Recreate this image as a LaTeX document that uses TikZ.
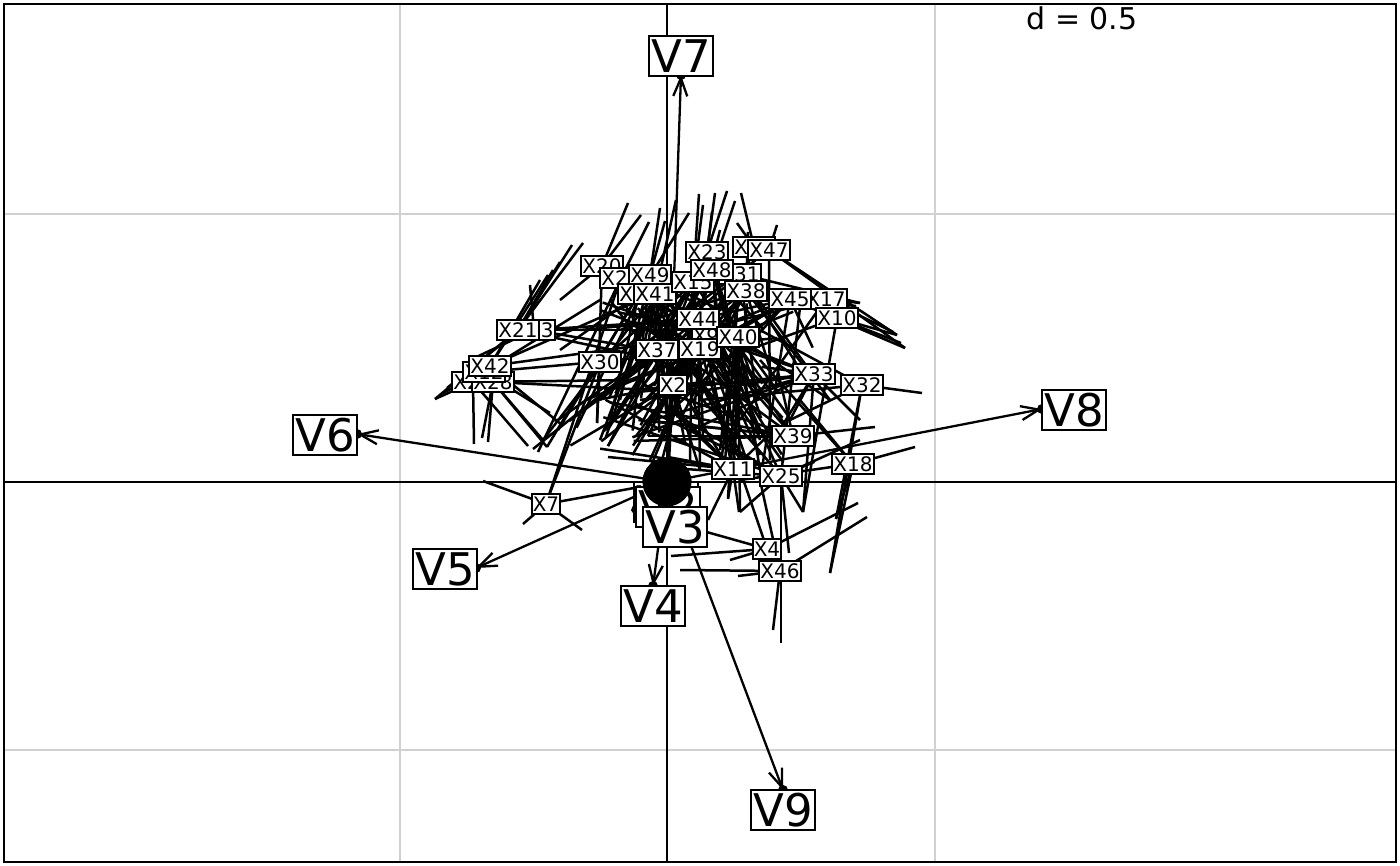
\documentclass[tikz,border=0pt]{standalone}
\usepackage{fontspec}
\setmainfont{DejaVu Sans}
\usetikzlibrary{arrows.meta, backgrounds}

\tikzset{
  xlab/.style={draw, fill=white, line width=2pt, inner xsep=1pt, inner ysep=0pt, minimum height=20pt, font=\fontsize{20}{20}\selectfont},
  vlab/.style={draw, fill=white, line width=2pt, inner xsep=2pt, inner ysep=0pt, minimum height=40pt, font=\fontsize{45}{45}\selectfont},
  starline/.style={line width=2.5pt},
  varrow/.style={line width=2.3pt, -{Straight Barb[length=18pt,width=14pt]}},
  vdot/.style={circle, fill=black, inner sep=0pt, minimum size=10pt},
  gridline/.style={line width=2.4pt, black!18},
}

\begin{document}
\begin{tikzpicture}[x=1pt, y=-1pt]
  \useasboundingbox (0,0) rectangle (1400,866);

  % grid and axes
  \begin{scope}[on background layer]
    \draw[gridline] (400,4) -- (400,862) (935,4) -- (935,862);
    \draw[gridline] (4,214) -- (1396,214) (4,750) -- (1396,750);
    \draw[line width=2.4pt] (667,4) -- (667,862) (4,482) -- (1396,482);
  \end{scope}

  % class labels
  \node[xlab] (X20) at (602,266) {X20};
  \node[xlab] (X27) at (621,278) {X27};
  \node[xlab] (X49) at (650,275) {X49};
  \node[xlab] (X14) at (639,294) {X14};
  \node[xlab] (X41) at (655,294) {X41};
  \node[xlab] (X15) at (693,282) {X15};
  \node[xlab] (X23) at (707,252) {X23};
  \node[xlab] (X36) at (754,247) {X36};
  \node[xlab] (X47) at (769,250) {X47};
  \node[xlab] (X31) at (740,274) {X31};
  \node[xlab] (X48) at (712,270) {X48};
  \node[xlab] (X38) at (746,291) {X38};
  \node[xlab] (X17) at (826,299) {X17};
  \node[xlab] (X45) at (790,299) {X45};
  \node[xlab] (X10) at (837,318) {X10};
  \node[xlab] (X9)  at (706,336) {X9};
  \node[xlab] (X44) at (698,319) {X44};
  \node[xlab] (X19) at (700,349) {X19};
  \node[xlab] (X40) at (738,337) {X40};
  \node[xlab] (X37) at (657,350) {X37};
  \node[xlab] (X30) at (600,362) {X30};
  \node[xlab] (X2)  at (673,385) {X2};
  \node[xlab] (X26) at (473,382) {X26};
  \node[xlab] (X28) at (493,382) {X28};
  \node[xlab] (X12) at (484,372) {X12};
  \node[xlab] (X42) at (490,366) {X42};
  \node[xlab] (X13) at (534,330) {X13};
  \node[xlab] (X21) at (518,330) {X21};
  \node[xlab] (X33) at (814,374) {X33};
  \node[xlab] (X32) at (862,385) {X32};
  \node[xlab] (X39) at (793,436) {X39};
  \node[xlab] (X11) at (733,469) {X11};
  \node[xlab] (X25) at (781,476) {X25};
  \node[xlab] (X18) at (853,464) {X18};
  \node[xlab] (X7)  at (546,504) {X7};
  \node[xlab] (X4)  at (767,549) {X4};
  \node[xlab] (X46) at (780,571) {X46};

  % stars
  \begin{scope}[on background layer]
    \foreach \c/\pts in {
      X20/{628/203,641/215,597/423,640/330,690/300,560/300},
      X27/{649/222,538/452,700/330},
      X49/{660/208,665/221,558/430,547/447,720/310,620/400},
      X14/{689/213,560/350,610/420},
      X41/{676/200,543/440,600/440,700/420,740/460},
      X15/{699/194,703/205,640/380,690/460},
      X23/{715/193,712/212,727/191,650/330,760/400},
      X36/{741/193,737/223,700/400},
      X47/{777/225,897/335,905/348,770/460,650/340},
      X48/{735/201,608/446,760/440},
      X31/{860/303,720/450,640/360},
      X38/{748/232,830/400,680/420,620/330},
      X17/{893/332,860/303,740/420,700/330},
      X45/{905/348,856/306,680/360,760/480},
      X10/{901/343,897/335,803/512,720/360},
      X44/{600/400,700/470,750/470,580/330,720/230},
      X9/{650/460,760/455},
      X19/{695/402,703/438,632/511,740/475,600/310},
      X40/{728/498,740/512,830/400,720/470,760/470,640/300},
      X37/{555/422,533/449,608/446,700/300,730/470},
      X30/{558/430,550/493,597/423,700/350,670/300},
      X2/{648/436,668/480,610/300,700/470,740/300},
      X12/{443/393,550/413,620/360,600/300},
      X26/{435/399,474/444,528/446,640/380},
      X28/{482/438,488/442,547/447,543/440,650/390},
      X42/{562/425,548/275,540/280,640/300,680/340},
      X13/{530/285,690/320,650/350,470/360},
      X21/{572/245,583/243,560/262,553/270,435/399,447/388,700/330,660/360},
      X33/{803/512,790/420,860/420,700/330,640/400},
      X32/{922/393,830/573,836/519,790/420,760/330,700/400},
      X39/{648/436,875/427,740/360,700/330},
      X11/{608/457,708/520,728/499,739/512,700/320,740/340,640/380},
      X25/{781/643,789/553,803/512,740/512,720/340,860/440},
      X18/{915/447,830/573,836/519,740/480,800/400,760/360},
      X7/{483/481,523/524,582/530,620/280,667/482},
      X4/{858/503,671/556,730/560,632/511,740/470},
      X46/{867/517,680/570,738/576,773/630,760/480}}
    {
      \foreach \x/\y in \pts {\draw[starline] (\c.center) -- (\x,\y);}
    }
    \pgfmathsetseed{11}
    \foreach \c in {X41,X44,X40,X19,X37,X2,X38,X45,X11,X25,X39,X33,X48,X15,X49,X31}{
      \foreach \k in {1,...,5}{
        \pgfmathsetmacro\px{600+220*rnd}
        \pgfmathsetmacro\py{300+170*rnd}
        \draw[starline] (\c.center) -- (\px,\py);
      }
      \foreach \k in {1,2}{
        \pgfmathsetmacro\px{565+120*rnd}
        \pgfmathsetmacro\py{385+75*rnd}
        \draw[starline] (\c.center) -- (\px,\py);
      }
    }
  \end{scope}

  % variable arrows
  \node[circle, fill=black, inner sep=0pt, minimum size=49pt] (O) at (667,482) {};
  \node[vdot] (d7) at (681,75) {};
  \node[vdot] (d8) at (1042,409) {};
  \node[vdot] (d6) at (357,434) {};
  \node[vdot] (d5) at (476,568) {};
  \node[vdot] (d4) at (653,586) {};
  \node[vdot] (d9) at (783,790) {};
  \begin{scope}[on background layer]
    \foreach \d in {d7,d8,d6,d5,d4,d9}
      \draw[varrow] (O.center) -- (\d.center);
  \end{scope}

  \node[vlab] (V7) at (681,56) {V7};
  \node[vlab] (V8) at (1074,410) {V8};
  \node[vlab] (V6) at (325,435) {V6};
  \node[vlab] (V5) at (445,569) {V5};
  \node[vlab] (V4) at (653,606) {V4};
  \node[vlab] (V9) at (783,810) {V9};
  \node[vlab] (V1) at (666,502) {V1};
  \node[vlab] (V2) at (668,507) {V2};
  \fill (O.center) circle (24.5pt);
  \node[vlab] (V3) at (675,527) {V3};

  \draw[line width=2.4pt] (4,4) rectangle (1396,862);
  \node[font=\fontsize{30}{30}\selectfont] (dlab) at (1082,18) {d = 0.5};
\end{tikzpicture}
\end{document}
